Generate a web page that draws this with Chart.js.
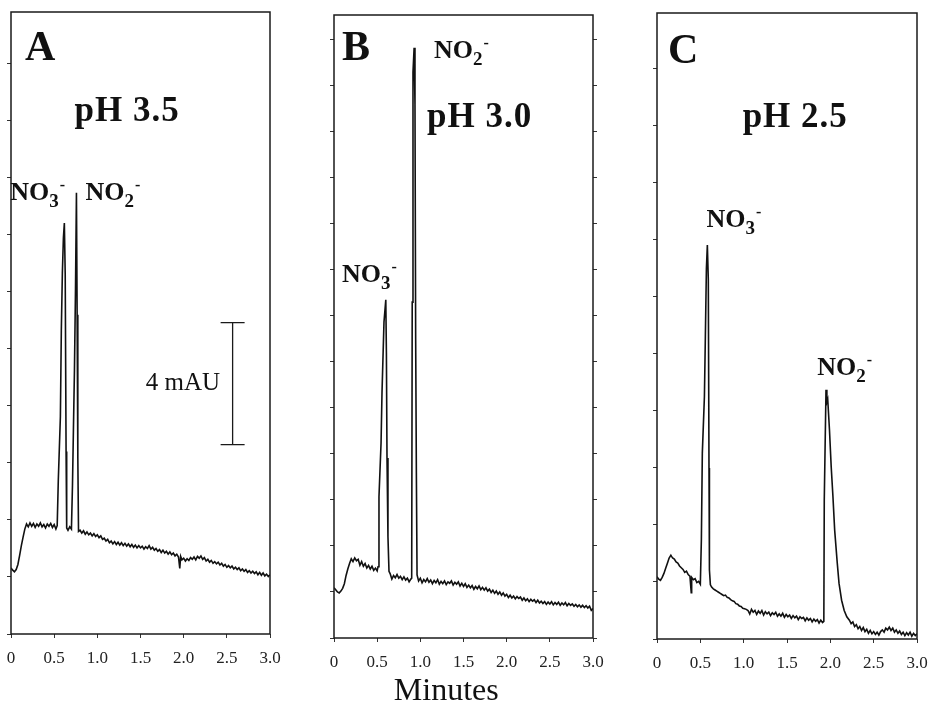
<!DOCTYPE html>
<html>
<head>
<meta charset="utf-8">
<script src="https://cdn.jsdelivr.net/npm/chart.js@4.4.0/dist/chart.umd.min.js"></script>
<style>
  html, body { margin: 0; padding: 0; background: #fff; width: 928px; height: 706px; overflow: hidden; position: relative; }
  canvas { position: absolute; top: 0; }
</style>
</head>
<body>
<canvas id="graficoA" width="310" height="706" style="left:-10px"></canvas>
<canvas id="graficoB" width="320" height="706" style="left:305px"></canvas>
<canvas id="graficoC" width="320" height="706" style="left:630px"></canvas>
<script>
// minutes on x, detector signal on y (in tick divisions)
const minuteTicks = [0, 0.5, 1.0, 1.5, 2.0, 2.5, 3.0];
const minuteLabels = ["0", "0.5", "1.0", "1.5", "2.0", "2.5", "3.0"];

const traceA = [
  [0.00,1.16],[0.02,1.12],[0.04,1.09],[0.06,1.13],[0.08,1.22],[0.10,1.38],[0.12,1.55],[0.14,1.70],[0.16,1.84],[0.18,1.93],
  [0.20,1.88],[0.22,1.95],[0.24,1.89],[0.26,1.94],[0.28,1.87],[0.30,1.93],[0.32,1.89],[0.34,1.95],[0.36,1.88],[0.38,1.92],
  [0.40,1.86],[0.42,1.93],[0.44,1.89],[0.46,1.94],[0.48,1.87],[0.50,1.92],[0.52,1.84],[0.535,1.90],
  [0.548,2.70],[0.572,3.81],[0.583,5.33],[0.595,6.33],[0.607,6.95],[0.618,7.21],[0.628,6.30],[0.638,3.20],[0.645,1.86],
  [0.66,1.82],[0.68,1.88],[0.70,1.84],
  [0.712,2.60],[0.723,3.58],[0.735,4.63],[0.747,6.04],[0.758,7.74],[0.766,5.60],[0.774,3.10],[0.782,1.80],
  [0.80,1.82],[0.82,1.77],[0.84,1.81],[0.86,1.75],[0.88,1.79],[0.90,1.74],[0.92,1.77],[0.94,1.72],[0.96,1.76],[0.98,1.71],
  [1.00,1.74],[1.02,1.69],[1.04,1.72],[1.06,1.66],[1.08,1.68],[1.10,1.63],[1.12,1.66],[1.14,1.60],[1.16,1.63],[1.18,1.58],
  [1.20,1.62],[1.22,1.57],[1.24,1.61],[1.26,1.56],[1.28,1.60],[1.30,1.55],[1.32,1.59],[1.34,1.54],[1.36,1.58],[1.38,1.53],
  [1.40,1.57],[1.42,1.52],[1.44,1.56],[1.46,1.51],[1.48,1.55],[1.50,1.51],[1.52,1.54],[1.54,1.49],[1.56,1.53],[1.58,1.50],
  [1.60,1.55],[1.62,1.49],[1.64,1.52],[1.66,1.47],[1.68,1.50],[1.70,1.45],[1.72,1.48],[1.74,1.43],[1.76,1.47],[1.78,1.42],
  [1.80,1.45],[1.82,1.40],[1.84,1.44],[1.86,1.39],[1.88,1.42],[1.90,1.37],[1.92,1.40],[1.94,1.35],[1.955,1.15],[1.965,1.36],
  [1.98,1.30],[2.00,1.33],[2.02,1.28],[2.04,1.32],[2.06,1.29],[2.08,1.34],[2.10,1.31],[2.12,1.35],[2.14,1.30],[2.16,1.36],
  [2.18,1.33],[2.20,1.37],[2.22,1.31],[2.24,1.34],[2.26,1.28],[2.28,1.31],[2.30,1.26],[2.32,1.29],[2.34,1.24],[2.36,1.27],
  [2.38,1.23],[2.40,1.26],[2.42,1.21],[2.44,1.24],[2.46,1.19],[2.48,1.22],[2.50,1.17],[2.52,1.20],[2.54,1.16],[2.56,1.19],
  [2.58,1.14],[2.60,1.17],[2.62,1.13],[2.64,1.16],[2.66,1.11],[2.68,1.14],[2.70,1.10],[2.72,1.13],[2.74,1.08],[2.76,1.11],
  [2.78,1.07],[2.80,1.10],[2.82,1.06],[2.84,1.09],[2.86,1.04],[2.88,1.08],[2.90,1.03],[2.92,1.07],[2.94,1.02],[2.96,1.05],
  [2.98,1.01],[3.00,1.04]
];

const traceB = [
  [0.00,1.09],[0.02,1.05],[0.04,1.00],[0.06,0.98],[0.08,1.02],[0.10,1.08],[0.12,1.18],[0.14,1.36],[0.16,1.50],[0.18,1.62],
  [0.20,1.72],[0.22,1.66],[0.24,1.74],[0.26,1.68],[0.28,1.71],[0.30,1.58],[0.32,1.66],[0.34,1.56],[0.36,1.62],[0.38,1.52],
  [0.40,1.58],[0.42,1.50],[0.44,1.56],[0.46,1.47],[0.48,1.52],[0.50,1.46],[0.51,1.55],
  [0.521,3.07],[0.545,4.24],[0.556,5.33],[0.579,6.87],[0.600,7.35],[0.607,6.20],[0.614,3.91],[0.625,2.20],[0.637,1.45],
  [0.65,1.40],[0.67,1.28],[0.69,1.36],[0.71,1.31],[0.73,1.38],[0.75,1.30],[0.77,1.34],[0.79,1.27],[0.81,1.33],[0.83,1.26],
  [0.85,1.30],[0.87,1.22],[0.89,1.28],[0.900,1.30],
  [0.906,7.30],[0.915,12.30],[0.928,12.83],[0.938,11.60],[0.946,6.50],[0.954,3.60],[0.962,1.37],
  [0.98,1.24],[1.00,1.30],[1.02,1.20],[1.04,1.27],[1.06,1.22],[1.08,1.29],[1.10,1.21],[1.12,1.26],[1.14,1.18],[1.16,1.25],
  [1.18,1.20],[1.20,1.27],[1.22,1.17],[1.24,1.23],[1.26,1.18],[1.28,1.24],[1.30,1.16],[1.32,1.22],[1.34,1.19],[1.36,1.24],
  [1.38,1.15],[1.40,1.21],[1.42,1.17],[1.44,1.22],[1.46,1.13],[1.48,1.19],[1.50,1.12],[1.52,1.18],[1.54,1.10],[1.56,1.15],
  [1.58,1.09],[1.60,1.14],[1.62,1.06],[1.64,1.12],[1.66,1.07],[1.68,1.13],[1.70,1.05],[1.72,1.10],[1.74,1.04],[1.76,1.09],
  [1.78,1.02],[1.80,1.06],[1.82,0.99],[1.84,1.04],[1.86,0.97],[1.88,1.02],[1.90,0.95],[1.92,1.00],[1.94,0.93],[1.96,0.98],
  [1.98,0.91],[2.00,0.95],[2.02,0.88],[2.04,0.93],[2.06,0.87],[2.08,0.91],[2.10,0.85],[2.12,0.90],[2.14,0.86],[2.16,0.89],
  [2.18,0.82],[2.20,0.87],[2.22,0.81],[2.24,0.85],[2.26,0.79],[2.28,0.84],[2.30,0.80],[2.32,0.83],[2.34,0.77],[2.36,0.82],
  [2.38,0.76],[2.40,0.80],[2.42,0.75],[2.44,0.79],[2.46,0.73],[2.48,0.78],[2.50,0.74],[2.52,0.79],[2.54,0.72],[2.56,0.77],
  [2.58,0.73],[2.60,0.78],[2.62,0.71],[2.64,0.76],[2.66,0.72],[2.68,0.77],[2.70,0.70],[2.72,0.75],[2.74,0.71],[2.76,0.74],
  [2.78,0.69],[2.80,0.73],[2.82,0.68],[2.84,0.72],[2.86,0.67],[2.88,0.71],[2.90,0.66],[2.92,0.70],[2.94,0.65],[2.96,0.69],
  [2.98,0.60],[3.00,0.64]
];

const traceC = [
  [0.00,1.09],[0.02,1.05],[0.04,1.03],[0.06,1.08],[0.08,1.15],[0.10,1.24],[0.12,1.33],[0.14,1.42],[0.16,1.47],[0.18,1.42],
  [0.20,1.40],[0.22,1.35],[0.24,1.33],[0.26,1.28],[0.28,1.25],[0.30,1.22],[0.32,1.17],[0.34,1.19],[0.36,1.13],[0.38,1.10],
  [0.395,0.81],[0.40,1.08],[0.42,1.04],[0.44,1.06],[0.46,0.99],[0.48,1.01],[0.50,0.96],
  [0.512,1.74],[0.523,3.26],[0.547,4.25],[0.558,5.30],[0.570,6.50],[0.581,6.91],[0.592,6.30],[0.600,3.00],[0.605,1.21],[0.616,0.95],
  [0.63,0.91],[0.65,0.88],[0.67,0.86],[0.69,0.84],[0.71,0.82],[0.73,0.80],[0.75,0.78],[0.77,0.76],[0.79,0.77],[0.81,0.73],
  [0.83,0.72],[0.85,0.69],[0.87,0.67],[0.89,0.66],[0.91,0.62],[0.93,0.61],[0.95,0.58],[0.97,0.57],[0.99,0.54],[1.01,0.53],
  [1.03,0.52],[1.05,0.50],[1.07,0.44],[1.09,0.52],[1.11,0.47],[1.13,0.50],[1.15,0.43],[1.17,0.49],[1.19,0.45],[1.21,0.50],
  [1.23,0.42],[1.25,0.48],[1.27,0.44],[1.29,0.47],[1.31,0.41],[1.33,0.46],[1.35,0.43],[1.37,0.47],[1.39,0.40],[1.41,0.44],
  [1.43,0.40],[1.45,0.45],[1.47,0.38],[1.49,0.43],[1.51,0.39],[1.53,0.42],[1.55,0.36],[1.57,0.41],[1.59,0.37],[1.61,0.40],
  [1.63,0.34],[1.65,0.39],[1.67,0.36],[1.69,0.38],[1.71,0.32],[1.73,0.37],[1.75,0.33],[1.77,0.36],[1.79,0.30],[1.81,0.35],
  [1.83,0.31],[1.85,0.34],[1.87,0.28],[1.89,0.33],[1.91,0.29],[1.925,0.31],
  [1.93,2.44],[1.95,4.37],[1.96,4.15],[1.97,4.20],[1.99,3.67],[2.01,3.02],[2.03,2.50],[2.05,1.91],[2.08,1.33],[2.10,0.98],
  [2.13,0.68],[2.16,0.50],[2.19,0.39],[2.22,0.33],[2.24,0.27],[2.26,0.30],[2.28,0.22],[2.30,0.25],[2.32,0.18],[2.34,0.22],
  [2.36,0.15],[2.38,0.20],[2.40,0.13],[2.42,0.17],[2.44,0.10],[2.46,0.15],[2.48,0.09],[2.50,0.13],[2.52,0.08],[2.54,0.12],
  [2.56,0.07],[2.58,0.13],[2.60,0.16],[2.62,0.12],[2.64,0.19],[2.66,0.16],[2.68,0.21],[2.70,0.15],[2.72,0.19],[2.74,0.12],
  [2.76,0.16],[2.78,0.10],[2.80,0.14],[2.82,0.08],[2.84,0.12],[2.86,0.06],[2.88,0.11],[2.90,0.07],[2.92,0.12],[2.94,0.05],
  [2.96,0.10],[2.98,0.06],[3.00,0.09]
];

const serif = '"Liberation Serif", "Times New Roman", serif';

function drawIon(ctx, px, py, base, sub) {
    ctx.font = 'bold 26px ' + serif;
    ctx.fillText(base, px, py);
    let w = ctx.measureText(base).width;
    ctx.font = 'bold 19px ' + serif;
    ctx.fillText(sub, px + w, py + 7);
    w += ctx.measureText(sub).width + 1;
    ctx.font = 'bold 16px ' + serif;
    ctx.fillText('-', px + w, py - 10);
}

const panelText = {
    id: 'panelText',
    afterDraw(chart, args, opts) {
        const { ctx, chartArea: area, scales: { x, y } } = chart;
        ctx.save();
        ctx.strokeStyle = '#1a1a1a';
        ctx.lineWidth = 1.5;
        ctx.strokeRect(area.left, area.top, area.right - area.left, area.bottom - area.top);

        ctx.fillStyle = '#111';
        ctx.textAlign = 'left';
        ctx.textBaseline = 'alphabetic';
        ctx.font = 'bold 42px ' + serif;
        ctx.fillText(opts.letter.text, x.getPixelForValue(opts.letter.x), y.getPixelForValue(opts.letter.y));
        ctx.font = 'bold 35px ' + serif;
        ctx.letterSpacing = '1px';
        ctx.fillText(opts.ph.text, x.getPixelForValue(opts.ph.x), y.getPixelForValue(opts.ph.y));
        ctx.letterSpacing = '0px';
        opts.ions.forEach(ion => {
            drawIon(ctx, x.getPixelForValue(ion.x), y.getPixelForValue(ion.y), ion.base, ion.sub);
        });

        if (opts.bar) {
            const bx = x.getPixelForValue(opts.bar.x);
            const y1 = y.getPixelForValue(opts.bar.from);
            const y2 = y.getPixelForValue(opts.bar.to);
            ctx.lineWidth = 1.3;
            ctx.beginPath();
            ctx.moveTo(bx, y1); ctx.lineTo(bx, y2);
            ctx.moveTo(bx - 12, y1); ctx.lineTo(bx + 12, y1);
            ctx.moveTo(bx - 12, y2); ctx.lineTo(bx + 12, y2);
            ctx.stroke();
            ctx.font = '25px ' + serif;
            ctx.textBaseline = 'middle';
            ctx.fillText(opts.bar.label, x.getPixelForValue(opts.bar.labelX), (y1 + y2) / 2);
        }

        if (opts.xTitle) {
            ctx.font = '32px ' + serif;
            ctx.textAlign = 'center';
            ctx.textBaseline = 'alphabetic';
            ctx.fillText(opts.xTitle.text, x.getPixelForValue(opts.xTitle.x), area.bottom + 62);
        }
        ctx.restore();
    }
};

function yAxis(max, position) {
    return {
        position: position,
        min: 0,
        max: max,
        afterFit: s => { s.width = 6; },
        ticks: { display: false, stepSize: 1, includeBounds: false },
        grid: { drawOnChartArea: false, tickLength: 4, color: '#333' },
        border: { display: false }
    };
}

function makeChart(id, trace, yMax, pad, notes, rightTicks) {
    const scales = {
        x: {
            type: 'linear',
            min: 0,
            max: 3,
            afterBuildTicks: s => { s.ticks = minuteTicks.map(v => ({ value: v })); },
            afterFit: s => { s.height = 40; },
            grid: { drawOnChartArea: false, tickLength: 4, color: '#333' },
            border: { display: false },
            ticks: {
                padding: 10,
                color: '#222',
                maxRotation: 0,
                autoSkip: false,
                font: { family: serif, size: 17 },
                callback: (v, i) => minuteLabels[i]
            }
        },
        y: yAxis(yMax, 'left')
    };
    if (rightTicks) scales.y2 = yAxis(yMax, 'right');

    return new Chart(document.getElementById(id), {
        type: 'line',
        data: {
            datasets: [{
                data: trace.map(p => ({ x: p[0], y: p[1] })),
                borderColor: '#111',
                borderWidth: 1.6,
                pointRadius: 0,
                tension: 0
            }]
        },
        options: {
            responsive: false,
            animation: false,
            layout: { padding: pad },
            plugins: { legend: { display: false }, tooltip: { enabled: false }, panelText: notes },
            scales: scales
        },
        plugins: [panelText]
    });
}

makeChart('graficoA', traceA, 10.91, { left: 15, right: 30, top: 12, bottom: 32 }, {
    letter: { text: 'A', x: 0.163, y: 10.07 },
    ph: { text: 'pH 3.5', x: 0.735, y: 9.0 },
    ions: [
        { base: 'NO', sub: '3', x: -0.01, y: 7.61 },
        { base: 'NO', sub: '2', x: 0.863, y: 7.61 }
    ],
    bar: { x: 2.567, from: 3.32, to: 5.46, label: '4 mAU', labelX: 1.56 }
}, false);

makeChart('graficoB', traceB, 13.54, { left: 23, right: 26, top: 15, bottom: 28 }, {
    letter: { text: 'B', x: 0.093, y: 12.57 },
    ph: { text: 'pH 3.0', x: 1.078, y: 11.11 },
    ions: [
        { base: 'NO', sub: '3', x: 0.093, y: 7.74 },
        { base: 'NO', sub: '2', x: 1.159, y: 12.61 }
    ],
    xTitle: { text: 'Minutes', x: 1.30 }
}, true);

makeChart('graficoC', traceC, 10.98, { left: 21, right: 33, top: 13, bottom: 27 }, {
    letter: { text: 'C', x: 0.128, y: 10.1 },
    ph: { text: 'pH 2.5', x: 0.988, y: 8.98 },
    ions: [
        { base: 'NO', sub: '3', x: 0.57, y: 7.23 },
        { base: 'NO', sub: '2', x: 1.849, y: 4.63 }
    ]
}, false);
</script>
</body>
</html>
